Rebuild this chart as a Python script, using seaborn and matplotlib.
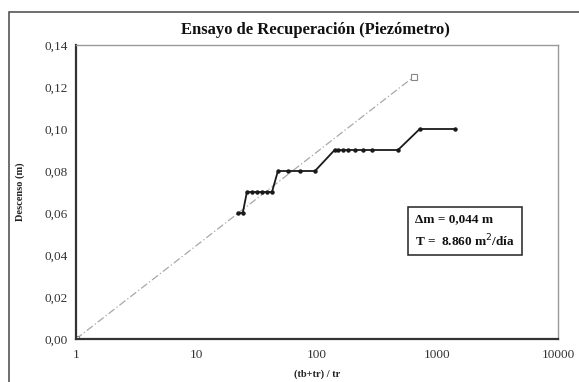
import matplotlib
matplotlib.use("Agg")
import matplotlib.pyplot as plt
import seaborn as sns
import pandas as pd
from matplotlib.patches import Rectangle
from matplotlib.ticker import FixedLocator, FixedFormatter, NullLocator

sns.set_theme(style="white")
plt.rcParams['font.family'] = ['Liberation Serif', 'DejaVu Serif']

# Data
ratio = [22.0, 24.2, 26.2, 28.9, 31.8, 34.8, 38.3, 42.3, 47.4, 57.4, 72.1, 96.2,
         140, 149, 164, 181, 207, 241, 285, 470, 712, 1397]
descenso = [0.06, 0.06, 0.07, 0.07, 0.07, 0.07, 0.07, 0.07, 0.08, 0.08, 0.08, 0.08,
            0.09, 0.09, 0.09, 0.09, 0.09, 0.09, 0.09, 0.09, 0.10, 0.10]
fit_x = [1, 640]
fit_y = [0.0, 0.125]
x_ticks = [1, 10, 100, 1000, 10000]
x_tick_labels = ["1", "10", "100", "1000", "10000"]
y_ticks = [0.00, 0.02, 0.04, 0.06, 0.08, 0.10, 0.12, 0.14]
y_tick_labels = ["0,00", "0,02", "0,04", "0,06", "0,08", "0,10", "0,12", "0,14"]

df = pd.DataFrame({"x": ratio, "y": descenso})
fit = pd.DataFrame({"x": fit_x, "y": fit_y})

W, H = 579, 382
fig = plt.figure(figsize=(W / 100, H / 100), dpi=100)
fig.patch.set_facecolor("white")

# outer frame
fig.add_artist(Rectangle((9 / W, -0.05), 1.2, 1 - 12 / H + 0.05, transform=fig.transFigure,
                         fill=False, edgecolor="#555555", linewidth=1.2))

ax = fig.add_axes([76 / W, 1 - 339 / H, (558 - 76) / W, (339 - 45) / H])
ax.set_facecolor("white")

sns.lineplot(data=fit, x="x", y="y", ax=ax, color="#a8a8a8", linewidth=0.9,
             linestyle=(0, (6, 2, 1, 2)), marker="s", markersize=5,
             markerfacecolor="white", markeredgecolor="#888888", markeredgewidth=0.8,
             sort=False, legend=False)
sns.lineplot(data=df, x="x", y="y", ax=ax, color="#1a1a1a", linewidth=1.3,
             marker="o", markersize=3.2, markeredgewidth=0, sort=False, legend=False,
             estimator=None)

ax.set_xscale("log")
ax.set_xlim(1, 10000)
ax.set_ylim(0, 0.14)
ax.xaxis.set_major_locator(FixedLocator(x_ticks))
ax.xaxis.set_major_formatter(FixedFormatter(x_tick_labels))
ax.xaxis.set_minor_locator(NullLocator())
ax.yaxis.set_major_locator(FixedLocator(y_ticks))
ax.yaxis.set_major_formatter(FixedFormatter(y_tick_labels))

ax.tick_params(axis="both", labelsize=9.5, colors="#333333", length=3, width=1,
               direction="out", pad=3)
ax.tick_params(axis="x", direction="inout", length=5, pad=5)
ax.grid(False)

for s in ["left", "bottom"]:
    ax.spines[s].set_color("#333333")
    ax.spines[s].set_linewidth(1.6)
for s in ["top", "right"]:
    ax.spines[s].set_color("#999999")
    ax.spines[s].set_linewidth(1.0)

ax.set_xlabel("(tb+tr) / tr", fontsize=7.5, fontweight="bold", color="#222222", labelpad=6)
ax.set_ylabel("Descenso (m)", fontsize=7.5, fontweight="bold", color="#222222", labelpad=14)

fig.text(315 / W, 1 - 30 / H, "Ensayo de Recuperación (Piezómetro)", ha="center", va="center",
         fontsize=12, fontweight="bold", color="#111111")

ax.text(0.807, 0.367, "Δm = 0,044 m\nT =  8.860 m$^2$/día", transform=ax.transAxes,
        fontsize=9.5, fontweight="bold", color="#111111", va="center", ha="center",
        multialignment="left", linespacing=1.5,
        bbox=dict(boxstyle="square,pad=0.5", facecolor="white", edgecolor="#222222",
                  linewidth=1.1))

fig.savefig("out.png", dpi=100)
